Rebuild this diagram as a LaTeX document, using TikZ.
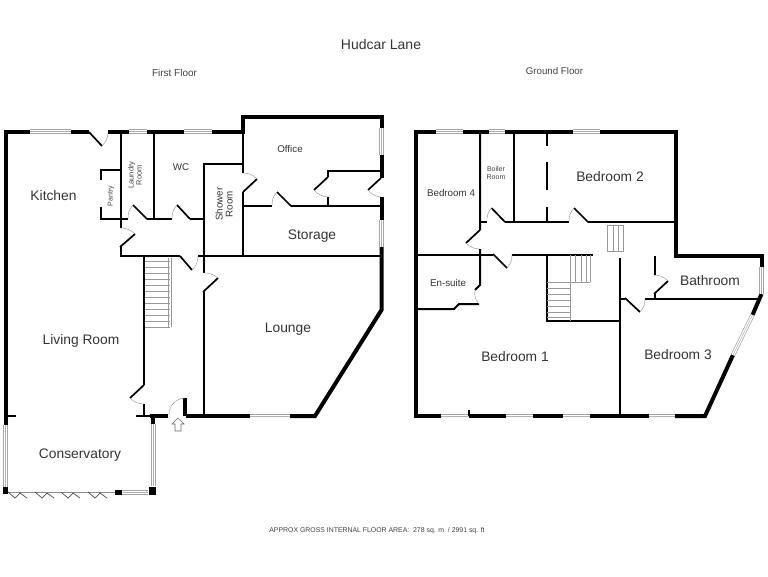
\documentclass[tikz,border=0pt]{standalone}
\usepackage{fontspec}
\setmainfont{Liberation Sans}
\tikzset{
	thickwall/.style={line width=4pt, black},
	wall/.style={line width=2pt, black},
	window/.style={line width=4.4pt, black!35, postaction={draw, white, line width=3pt}, postaction={draw, black!30, line width=.5pt}},
	leaf/.style={line width=1.7pt, black},
	swing/.style={line width=.4pt, black!45},
	tread/.style={line width=.6pt, black!40},
	room/.style={font=\fontsize{13.8}{15}\selectfont, text=black!80},
	smallroom/.style={font=\fontsize{9.8}{11}\selectfont, text=black!80, align=center, inner sep=0pt},
	tinyroom/.style={font=\fontsize{7}{8}\selectfont, text=black!75, align=center, inner sep=0pt},
}
\newcommand{\doorleaf}[3]{
	\draw[leaf] (#1) -- (#2);
	\draw[swing] (#2) to[bend right=22] (#3);
}
\begin{document}
\begin{tikzpicture}[x=1pt, y=-1pt]
\useasboundingbox (0,0) rectangle (768,576);

% first floor outer walls
\draw[thickwall, line cap=rect] (5.5,425) -- (5.5,131.5) -- (30,131.5);
\draw[thickwall] (71,131.5) -- (89,131.5) (108,131.5) -- (129,131.5) (147,131.5) -- (184,131.5);
\draw[thickwall, line join=miter] (212,131.5) -- (243,131.5) -- (243,116.5) -- (381.5,116.5) -- (381.5,128);
\draw[thickwall] (381.5,155) -- (381.5,178) (381.5,197) -- (381.5,220);
\draw[thickwall, line join=miter] (381.5,247) -- (381.5,310) -- (315,416) -- (290,416);
\draw[thickwall] (150,416) -- (168,416) (186,416) -- (250,416) (185,398) -- (185,416);
\draw[thickwall] (153,416) -- (153,424);
\foreach \a/\b in {30/71,129/147,184/212}
	\draw[window] (\a,131.5) -- (\b,131.5);
\draw[window] (250,416) -- (290,416);
\draw[window] (381.5,128) -- (381.5,155);
\draw[window] (381.5,220) -- (381.5,247);
\draw[window] (5.5,425) -- (5.5,487);
\draw[window] (153.5,424) -- (153.5,486);
\draw[window] (122,492.5) -- (148,492.5);
\draw[thickwall, line width=5pt] (5.5,487) -- (5.5,494) (115,492.5) -- (122,492.5);
\draw[thickwall, line width=7pt] (152.5,487) -- (152.5,495);

% conservatory folding doors
\draw[swing] (8,492) -- (115,492);
\foreach \x in {8,35,61,88}
	\draw[swing, line width=.7pt, black!70] (\x,492) -- ++(7,6) -- ++(5,-5) -- ++(7,5);

% first floor inner walls
\draw[wall] (120.5,131) -- (120.5,228) (120.5,247) -- (120.5,256) -- (180,256);
\draw[wall] (101,180) -- (101,170) -- (120,170);
\draw[wall] (101,207) -- (101,219) -- (128,219);
\draw[wall] (147,219) -- (172,219) (190,219) -- (203,219);
\draw[wall] (153.5,131) -- (153.5,219);
\draw[wall] (243,164) -- (203.5,164) -- (203.5,273) (203.5,292) -- (203.5,416);
\draw[wall] (198,256) -- (380,256);
\draw[wall] (243,131) -- (243,173) (243,192) -- (243,256);
\draw[wall] (243,206) -- (272,206) (291,206) -- (380,206);
\draw[wall] (328,206) -- (328,197) (328,177) -- (328,171) -- (380,171);
\draw[wall] (144,256) -- (144,385) (144,404) -- (144,416) (136,416) -- (150,416);
\draw[wall] (5,416) -- (16,416);

\doorleaf{89,132}{102,146}{108,132}
\doorleaf{147,219}{133,205}{128,219}
\doorleaf{190,219}{177,205}{172,219}
\doorleaf{120,247}{135,234}{120,228}
\doorleaf{180,256}{192,270}{198,256}
\doorleaf{203,292}{218,278}{203,273}
\doorleaf{144,385}{130,398}{144,404}
\doorleaf{243,192}{257,179}{243,173}
\doorleaf{291,206}{277,192}{272,206}
\doorleaf{328,177}{314,190}{328,197}
\doorleaf{381,178}{368,190}{381,197}
\draw[swing] (185,398) to[bend right=45] (169,415);

% entrance arrow
\draw[swing, line width=.6pt, black!60] (178,418) -- (184,424) -- (181,424) -- (181,431) -- (175,431) -- (175,424) -- (172,424) -- cycle;

% first floor stairs
\draw[tread] (171,258) -- (171,327) (168,258) -- (168,327);
\foreach \y in {261,267,...,327}
	\draw[tread] (145,\y) -- (170,\y);

% ground floor outer walls
\draw[thickwall, line cap=rect] (416,416) -- (416,131.5) -- (436,131.5);
\draw[thickwall] (463,131.5) -- (489,131.5) (505,131.5) -- (573,131.5);
\draw[thickwall, line join=miter] (600,131.5) -- (675.5,131.5) -- (675.5,256) -- (761.5,256) -- (761.5,267);
\draw[thickwall] (761.5,294) -- (752.5,315);
\draw[thickwall, line join=miter] (733,355) -- (705,416) -- (675,416);
\draw[thickwall] (649,416) -- (590,416) (563,416) -- (533,416) (506,416) -- (469,416) (441,416) -- (416,416);
\foreach \a/\b in {436/463,489/505,573/600}
	\draw[window] (\a,131.5) -- (\b,131.5);
\foreach \a/\b in {441/469,506/533,563/590,649/675}
	\draw[window] (\a,416) -- (\b,416);
\draw[window] (761.5,267) -- (761.5,294);
\draw[window] (752.5,315) -- (733,355);

% ground floor inner walls
\draw[wall] (480,131) -- (480,230) (480,249) -- (480,285) -- (475,290);
\draw[wall] (513.5,131) -- (513.5,222);
\draw[wall] (480,222) -- (487,222) (505,222) -- (569,222) (588,222) -- (675,222);
\draw[wall] (546.5,131) -- (546.5,146) (546.5,162) -- (546.5,190) (546.5,207) -- (546.5,222);
\draw[wall] (416,254.5) -- (493,254.5) (512,254.5) -- (593,254.5);
\draw[wall] (546.5,254) -- (546.5,321) -- (620,321);
\draw[wall] (619.5,258) -- (619.5,416);
\draw[wall] (418,309) -- (454,309) -- (459,304) -- (479,304);
\draw[wall] (654.5,256) -- (654.5,275) (654.5,294) -- (654.5,298);
\draw[wall] (619,298.5) -- (625,298.5) (645,298.5) -- (758,298.5);
\draw[wall] (469,410) -- (469,416);

\doorleaf{505,222}{491.5,208}{487,222}
\doorleaf{588,222}{574,208}{569,222}
\doorleaf{480,230}{466,243}{480,249}
\doorleaf{493,254}{507,268}{512,254}
\doorleaf{654,294}{668,281}{654,275}
\doorleaf{625,298}{640,312}{645,298}
\draw[swing] (475,290) to[bend right=25] (479,304);

% ground floor stairs
\draw[tread] (570,255) -- (570,321);
\foreach \x in {575.5,581,586,590}
	\draw[tread] (\x,255) -- (\x,282);
\draw[tread] (547,282) -- (590,282);
\foreach \y in {288,294,300,306,312,317}
	\draw[tread] (547,\y) -- (570,\y);
\draw[tread] (607,251) -- (607,225) -- (623,225) -- (623,251) -- cycle;
\foreach \x in {613,618}
	\draw[tread] (\x,225) -- (\x,251);

% labels
\node[smallroom, font=\fontsize{14}{16}\selectfont] (title) at (381,44) {Hudcar Lane};
\node[tinyroom, font=\fontsize{10}{12}\selectfont] (first) at (174.5,73) {First Floor};
\node[tinyroom, font=\fontsize{9.7}{12}\selectfont] (ground) at (554.5,71) {Ground Floor};
\node[room] (kitchen) at (53.5,196) {Kitchen};
\node[tinyroom, rotate=90] (pantry) at (111,196) {Pantry};
\node[tinyroom, rotate=90, font=\fontsize{7.5}{8}\selectfont] (laundry) at (135,175) {Laundry\\Room};
\node[smallroom] (wc) at (181,167) {WC};
\node[smallroom, rotate=90] (shower) at (224,204) {Shower\\[-1pt]Room};
\node[smallroom] (office) at (290,149) {Office};
\node[room] (storage) at (312,236.5) {Storage};
\node[room] (lounge) at (288,329.5) {Lounge};
\node[room] (living) at (81,340.5) {Living Room};
\node[room] (conservatory) at (80,455.5) {Conservatory};
\node[smallroom] (bed4) at (451,193) {Bedroom 4};
\node[tinyroom] (boiler) at (496,173) {Boiler\\Room};
\node[room] (bed2) at (610,177) {Bedroom 2};
\node[smallroom] (ensuite) at (448,283) {En-suite};
\node[room] (bathroom) at (710,281) {Bathroom};
\node[room] (bed1) at (515,357) {Bedroom 1};
\node[room] (bed3) at (678,355) {Bedroom 3};
\node[tinyroom, font=\fontsize{6.9}{8}\selectfont] (area) at (377,531) {APPROX GROSS INTERNAL FLOOR AREA:\ \ 278 sq. m\ \ / 2991 sq. ft};
\end{tikzpicture}
\end{document}
